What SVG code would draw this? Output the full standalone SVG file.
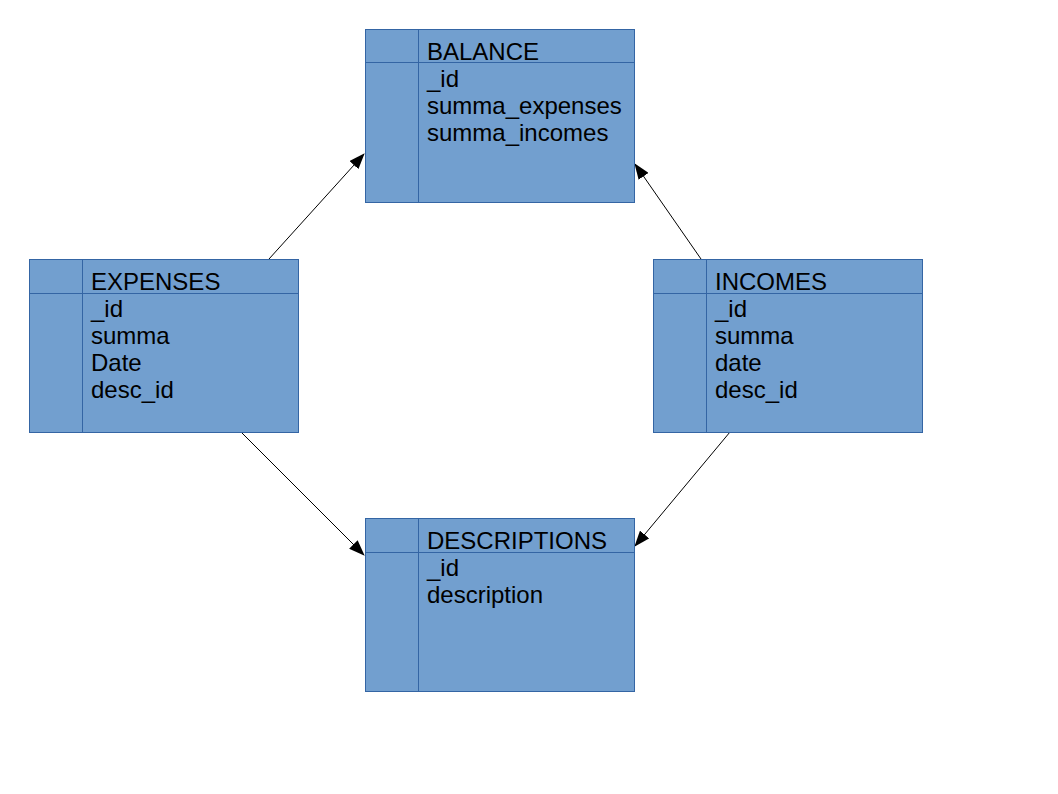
<svg xmlns="http://www.w3.org/2000/svg" width="1058" height="794" viewBox="0 0 1058 794">
<style>
.box{fill:#729fcf;stroke:#3465a4;stroke-width:1}
.ln{stroke:#3465a4;stroke-width:1}
.t{font-family:"Liberation Sans",Arial,sans-serif;font-size:24px;fill:#000}
.c{stroke:#000;stroke-width:1;fill:none;marker-end:url(#ah)}
</style>
<defs>
<marker id="ah" markerWidth="16" markerHeight="12" refX="15" refY="6" orient="auto" markerUnits="userSpaceOnUse">
<path d="M0,0 L16,6 L0,12 Z" fill="#000"/>
</marker>
</defs>
<rect width="1058" height="794" fill="#fff"/>
<g id="connectors">
<line class="c" x1="269" y1="259" x2="364" y2="154"/>
<line class="c" x1="701" y1="259" x2="635" y2="164"/>
<line class="c" x1="241" y1="432" x2="364" y2="555"/>
<line class="c" x1="730" y1="432" x2="635" y2="546"/>
</g>
<g id="balance">
<rect class="box" x="365.5" y="29.5" width="269" height="173"/>
<line class="ln" x1="418.5" y1="29.5" x2="418.5" y2="202.5"/>
<line class="ln" x1="365.5" y1="62.5" x2="634.5" y2="62.5"/>
<text class="t" x="427" y="60">BALANCE</text>
<text class="t" x="427" y="87">_id</text>
<text class="t" x="427" y="114">summa_expenses</text>
<text class="t" x="427" y="141">summa_incomes</text>
</g>
<g id="expenses">
<rect class="box" x="29.5" y="259.5" width="269" height="173"/>
<line class="ln" x1="82.5" y1="259.5" x2="82.5" y2="432.5"/>
<line class="ln" x1="29.5" y1="293.5" x2="298.5" y2="293.5"/>
<text class="t" x="91" y="290">EXPENSES</text>
<text class="t" x="91" y="317">_id</text>
<text class="t" x="91" y="344">summa</text>
<text class="t" x="91" y="371">Date</text>
<text class="t" x="91" y="398">desc_id</text>
</g>
<g id="incomes">
<rect class="box" x="653.5" y="259.5" width="269" height="173"/>
<line class="ln" x1="706.5" y1="259.5" x2="706.5" y2="432.5"/>
<line class="ln" x1="653.5" y1="293.5" x2="922.5" y2="293.5"/>
<text class="t" x="715" y="290">INCOMES</text>
<text class="t" x="715" y="317">_id</text>
<text class="t" x="715" y="344">summa</text>
<text class="t" x="715" y="371">date</text>
<text class="t" x="715" y="398">desc_id</text>
</g>
<g id="descriptions">
<rect class="box" x="365.5" y="518.5" width="269" height="173"/>
<line class="ln" x1="418.5" y1="518.5" x2="418.5" y2="691.5"/>
<line class="ln" x1="365.5" y1="552.5" x2="634.5" y2="552.5"/>
<text class="t" x="427" y="549">DESCRIPTIONS</text>
<text class="t" x="427" y="576">_id</text>
<text class="t" x="427" y="603">description</text>
</g>
</svg>
